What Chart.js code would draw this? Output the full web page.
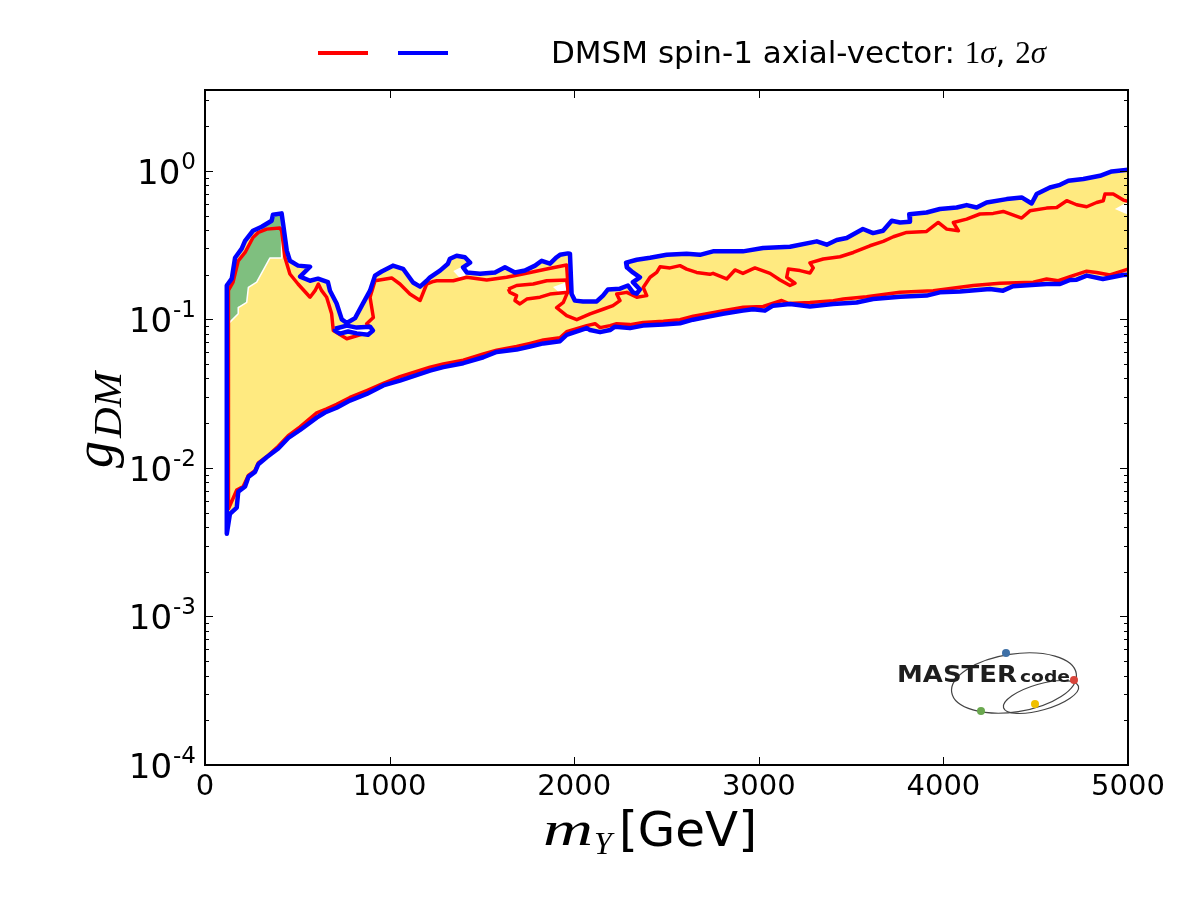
<!DOCTYPE html>
<html><head><meta charset="utf-8">
<script src="https://cdn.jsdelivr.net/npm/chart.js@4/dist/chart.umd.min.js"></script>
<style>html,body{margin:0;padding:0;background:#fff}#wrap{width:1200px;height:900px}</style>
</head><body><div id="wrap"><canvas id="c" width="1200" height="900"></canvas></div>
<script>
// ---- data (m_Y in GeV, g_DM) ----
const xTickValues = [0, 1000, 2000, 3000, 4000, 5000];
const yDecades = [-4, -3, -2, -1, 0];

// 2-sigma (blue) contour: upper branch, right -> left
const blueUpperX = [5000,4975,4912,4848,4758,4677,4632,4577,4505,4478,4424,4343,4234,4180,4126,4072,3981,3909,3815,3819,3765,3720,3673,3619,3564,3476,3422,3368,3314,3169,3023,2914,2752,2681,2609,2501,2411,2339,2281,2285,2318,2356,2318,2356,2339,2318,2291,2248,2183,2156,2122,2048,2004,1986,1977,1966,1923,1905,1869,1824,1788,1733,1679,1625,1571,1490,1418,1398,1436,1408,1363,1327,1316,1273,1219,1201,1165,1127,1073,1018,957,921,894,856,813,768,741,713,677,666,612,569,515,569,504,460,443,423,415,368,361,307,260,217,199,163,145,118];
const blueUpperY = [1.015,1.01,0.99,0.926,0.88,0.857,0.805,0.772,0.697,0.603,0.662,0.645,0.612,0.566,0.588,0.566,0.553,0.524,0.51,0.454,0.449,0.461,0.395,0.381,0.406,0.353,0.342,0.318,0.335,0.308,0.302,0.287,0.287,0.272,0.277,0.272,0.26,0.252,0.241,0.224,0.207,0.192,0.178,0.159,0.149,0.152,0.169,0.161,0.159,0.1445,0.132,0.132,0.1337,0.148,0.277,0.278,0.272,0.262,0.237,0.248,0.23,0.213,0.207,0.224,0.207,0.203,0.207,0.224,0.241,0.262,0.268,0.256,0.237,0.213,0.192,0.182,0.166,0.177,0.219,0.23,0.21,0.197,0.156,0.128,0.102,0.0945,0.1,0.128,0.156,0.178,0.188,0.182,0.194,0.226,0.23,0.248,0.29,0.44,0.517,0.506,0.461,0.42,0.395,0.338,0.299,0.26,0.188,0.169];
// 2-sigma (blue) contour: lower branch, left -> right
const blueLowerX = [118,135,172,180,217,235,271,289,334,397,451,515,605,650,713,785,876,966,1056,1219,1291,1399,1508,1580,1688,1761,1833,1923,1959,2068,2086,2140,2194,2221,2302,2373,2481,2573,2643,2735,2806,2914,2968,3033,3077,3169,3277,3402,3530,3619,3765,3909,3981,4090,4252,4323,4377,4559,4632,4686,4722,4776,4864,4973,5000];
const blueLowerY = [0.0036,0.0049,0.0054,0.0069,0.0075,0.0087,0.0094,0.0106,0.0118,0.0135,0.0159,0.018,0.0218,0.0236,0.0254,0.0284,0.0315,0.0359,0.0387,0.0452,0.0477,0.0507,0.0556,0.0604,0.0626,0.0656,0.0689,0.0713,0.0786,0.0873,0.0847,0.082,0.0847,0.0892,0.0873,0.0908,0.0922,0.0941,0.0995,0.1047,0.1091,0.1145,0.117,0.1145,0.1237,0.127,0.122,0.127,0.130,0.137,0.142,0.1445,0.152,0.154,0.16,0.156,0.167,0.173,0.173,0.184,0.185,0.197,0.187,0.199,0.2];
// small closed 2-sigma island near m_Y ~ 800 GeV
const blueIslandX = [704,768,822,894,910,883,822,775,731,704,704];
const blueIslandY = [0.0864,0.0908,0.088,0.0892,0.084,0.0787,0.0805,0.0828,0.0802,0.084,0.0864];

// 1-sigma (red) contour: upper branch, right -> left
const redUpperX = [5000,4975,4920,4875,4866,4830,4776,4722,4668,4614,4559,4469,4424,4324,4270,4198,4126,4054,4081,4018,3972,3909,3801,3729,3674,3602,3512,3440,3349,3277,3295,3277,3223,3160,3151,3196,3169,3115,3061,2979,2914,2871,2826,2752,2735,2663,2609,2573,2519,2465,2447,2411,2374,2393,2339,2285,2230,2248,2210,2156,2086,2014,1959,1905,1941,1968,1959,1851,1761,1634,1526,1418,1345,1255,1237,1201,1165,1110,1056,1011,921,894,912,876,903,858,768,695,686,659,632,614,596,569,504,460,433,415,406,334,289,260,217,180,152,126];
const redUpperY = [0.624,0.635,0.697,0.697,0.629,0.612,0.573,0.591,0.629,0.566,0.561,0.538,0.481,0.533,0.517,0.512,0.473,0.449,0.395,0.405,0.449,0.391,0.385,0.36,0.335,0.313,0.282,0.264,0.255,0.240,0.222,0.205,0.213,0.218,0.192,0.175,0.169,0.184,0.204,0.222,0.204,0.215,0.187,0.204,0.201,0.207,0.218,0.230,0.222,0.226,0.207,0.192,0.164,0.1445,0.141,0.152,0.148,0.1337,0.1237,0.117,0.109,0.0995,0.106,0.12,0.13,0.156,0.232,0.218,0.207,0.192,0.184,0.192,0.182,0.182,0.18,0.173,0.134,0.148,0.173,0.19,0.182,0.141,0.103,0.0935,0.0863,0.080,0.0740,0.084,0.109,0.141,0.156,0.173,0.156,0.141,0.173,0.202,0.261,0.395,0.412,0.405,0.385,0.356,0.282,0.248,0.178,0.156];
// 1-sigma (red) contour: lower branch, left -> right
const redLowerX = [127,172,207,235,271,289,334,397,451,515,605,659,713,785,876,966,1056,1219,1291,1399,1508,1580,1688,1761,1833,1923,1959,2068,2113,2140,2194,2230,2302,2374,2483,2573,2645,2735,2808,2916,3024,3124,3160,3277,3404,3458,3584,3765,3945,4162,4306,4487,4559,4622,4686,4776,4830,4902,4975,5000];
const redLowerY = [0.0053,0.0071,0.0075,0.0089,0.0096,0.0108,0.0119,0.0140,0.0165,0.0189,0.0235,0.0250,0.0268,0.0298,0.0332,0.0371,0.0411,0.0477,0.05,0.0531,0.0585,0.062,0.0656,0.0689,0.0726,0.0751,0.0826,0.0908,0.0935,0.088,0.0908,0.0935,0.0922,0.0954,0.097,0.0995,0.105,0.11,0.1145,0.1207,0.122,0.134,0.128,0.130,0.1337,0.137,0.142,0.152,0.156,0.169,0.175,0.178,0.187,0.182,0.194,0.211,0.207,0.199,0.213,0.218];
// closed 1-sigma hole near m_Y ~ 1800 GeV
const redLoopX = [1643,1688,1778,1851,1959,1968,1869,1815,1743,1706,1679,1688,1652,1643];
const redLoopY = [0.16,0.169,0.173,0.182,0.184,0.152,0.148,0.141,0.137,0.127,0.134,0.1445,0.152,0.16];

// green filled region (top-left)
const greenX = [130,130,152,180,217,260,309,363,374,415,415,352,343,280,235,226,180,180,135,130];
const greenY = [0.0958,0.161,0.178,0.248,0.282,0.356,0.414,0.461,0.498,0.514,0.259,0.259,0.248,0.178,0.164,0.13,0.12,0.109,0.0958,0.0958];
// unfilled spots inside the band
const gapEdgeX = [4929,5000,5000];
const gapEdgeY = [0.553,0.619,0.506];
const gapSpotAX = [1345,1398,1412,1380,1345];
const gapSpotAY = [0.212,0.228,0.198,0.19,0.212];
const gapSpotBX = [1885,1955,1962,1915,1885];
const gapSpotBY = [0.165,0.178,0.156,0.153,0.165];

// ---- helpers ----
const pts = (xs, ys) => xs.map((x, i) => ({x: x, y: ys[i]}));
const bluePts = pts(blueUpperX, blueUpperY).concat(pts(blueLowerX, blueLowerY));
const redPts = pts(redUpperX, redUpperY).concat(pts(redLowerX, redLowerY));

const YELLOW = 'rgb(255,234,128)';
const GREEN = 'rgb(127,191,127)';

const line = (ctx, x1, y1, x2, y2) => { ctx.beginPath(); ctx.moveTo(x1, y1); ctx.lineTo(x2, y2); ctx.stroke(); };
// draw text squeezed/stretched to a given width
const fitText = (ctx, txt, x, y, width) => {
  const w = ctx.measureText(txt).width;
  ctx.save(); ctx.translate(x, y); ctx.scale(width / w, 1); ctx.fillText(txt, 0, 0); ctx.restore();
  return width;
};

const deco = {
  id: 'deco',
  afterDraw(chart) {
    const ctx = chart.ctx, a = chart.chartArea, xs = chart.scales.x, ys = chart.scales.y;
    ctx.save();
    // frame
    ctx.strokeStyle = '#000'; ctx.lineWidth = 2;
    ctx.strokeRect(a.left, a.top, a.right - a.left, a.bottom - a.top);
    // inward ticks
    ctx.lineWidth = 1;
    xTickValues.forEach(v => {
      const p = Math.round(xs.getPixelForValue(v)) + 0.5;
      line(ctx, p, a.bottom, p, a.bottom - 8);
      line(ctx, p, a.top, p, a.top + 8);
    });
    yDecades.forEach(e => {
      for (let k = 1; k <= 9; k++) {
        const v = k * Math.pow(10, e);
        if (v > ys.max) break;
        const p = Math.round(ys.getPixelForValue(v)) + 0.5;
        const L = k === 1 ? 8 : 4;
        line(ctx, a.left, p, a.left + L, p);
        line(ctx, a.right, p, a.right - L, p);
      }
    });
    // y tick labels 10^n
    ctx.fillStyle = '#000';
    yDecades.forEach(e => {
      const p = ys.getPixelForValue(Math.pow(10, e));
      const sup = String(e);
      ctx.font = '23px "DejaVu Sans"';
      ctx.textAlign = 'right'; ctx.textBaseline = 'alphabetic';
      const sw = ctx.measureText(sup).width;
      ctx.fillText(sup, 196, p - 2);
      ctx.font = '34px "DejaVu Sans"';
      ctx.fillText('10', 196 - sw - 1, p + 13);
    });
    // x axis title
    ctx.textAlign = 'left';
    ctx.font = 'italic 48px "Liberation Serif"';
    fitText(ctx, 'm', 543, 845, 50);
    ctx.font = 'italic 32px "Liberation Serif"';
    ctx.fillText('Y', 594, 854);
    ctx.font = '48px "DejaVu Sans"';
    fitText(ctx, '[GeV]', 619, 846, 138);
    // y axis title
    ctx.save();
    ctx.translate(112, 468);
    ctx.rotate(-Math.PI / 2);
    ctx.font = 'italic 54px "Liberation Serif"';
    ctx.fillText('g', 0, 0);
    const gw = ctx.measureText('g').width;
    ctx.font = 'italic 40px "Liberation Serif"';
    fitText(ctx, 'DM', gw + 3, 9, 66);
    ctx.restore();
    // legend
    ctx.lineWidth = 4; ctx.lineCap = 'butt';
    ctx.strokeStyle = '#ff0000'; line(ctx, 318, 53, 368, 53);
    ctx.strokeStyle = '#0000ff'; line(ctx, 398, 53, 448, 53);
    ctx.font = '31px "DejaVu Sans"';
    let tx = 551;
    const t1 = 'DMSM spin-1 axial-vector: ';
    ctx.fillText(t1, tx, 63); tx += ctx.measureText(t1).width;
    const seg = [['1', '31px "Liberation Serif"'], ['σ', 'italic 31px "Liberation Serif"'], [', ', '31px "DejaVu Sans"'], ['2', '31px "Liberation Serif"'], ['σ', 'italic 31px "Liberation Serif"']];
    seg.forEach(s => { ctx.font = s[1]; ctx.fillText(s[0], tx, 63); tx += ctx.measureText(s[0]).width; });
    // logo
    ctx.strokeStyle = '#444'; ctx.lineWidth = 1.2;
    ctx.beginPath(); ctx.ellipse(1014, 683, 63, 29, -0.15, 0, 2 * Math.PI); ctx.stroke();
    ctx.beginPath(); ctx.ellipse(1041, 697, 39, 13, -0.28, 0, 2 * Math.PI); ctx.stroke();
    ctx.fillStyle = '#1e1e1e';
    ctx.font = 'bold 23px "DejaVu Sans"';
    fitText(ctx, 'MASTER', 897, 682, 120);
    ctx.font = 'bold 16px "DejaVu Sans"';
    fitText(ctx, 'code', 1020, 682, 50);
    [['#3d6fa6', 1006, 653], ['#d8453b', 1074, 680], ['#f0c000', 1035, 704], ['#6aa84f', 981, 711]].forEach(d => {
      ctx.fillStyle = d[0]; ctx.beginPath(); ctx.arc(d[1], d[2], 4, 0, 2 * Math.PI); ctx.fill();
    });
    ctx.restore();
  }
};

const lineDs = (data, color, width) => ({
  data: data, showLine: true, pointRadius: 0, borderColor: color, borderWidth: width,
  fill: false, tension: 0, borderJoinStyle: 'round', borderCapStyle: 'round'
});
const fillDs = (data, color, border, bw) => ({
  data: data, showLine: true, pointRadius: 0, borderColor: border, borderWidth: bw,
  backgroundColor: color, fill: 'shape', tension: 0, borderJoinStyle: 'round'
});

new Chart(document.getElementById('c'), {
  type: 'scatter',
  data: {
    datasets: [
      lineDs(bluePts, '#0000ff', 4.5),
      fillDs(pts(blueIslandX, blueIslandY), '#ffffff', '#0000ff', 4.5),
      lineDs(redPts, '#ff0000', 3.5),
      fillDs(pts(redLoopX, redLoopY), 'rgba(0,0,0,0)', '#ff0000', 3.5),
      fillDs(pts(gapEdgeX, gapEdgeY), '#ffffff', 'rgba(0,0,0,0)', 0),
      fillDs(pts(gapSpotAX, gapSpotAY), '#ffffff', 'rgba(0,0,0,0)', 0),
      fillDs(pts(gapSpotBX, gapSpotBY), '#ffffff', 'rgba(0,0,0,0)', 0),
      fillDs(pts(greenX, greenY), GREEN, '#ffffff', 1.5),
      fillDs(bluePts, YELLOW, 'rgba(0,0,0,0)', 0)
    ]
  },
  options: {
    responsive: false, animation: false, devicePixelRatio: 1,
    layout: {padding: {left: 0, right: 72, top: 90, bottom: 0}},
    plugins: {legend: {display: false}, tooltip: {enabled: false}},
    scales: {
      x: {
        type: 'linear', min: 0, max: 5000,
        grid: {display: false, drawTicks: false}, border: {display: false},
        ticks: {stepSize: 1000, autoSkip: false, maxRotation: 0, padding: 5, color: '#000',
                font: {family: 'DejaVu Sans', size: 29}, callback: v => String(v)},
        afterFit: s => { s.height = 135; }
      },
      y: {
        type: 'logarithmic', min: 1e-4, max: 3.5,
        grid: {display: false, drawTicks: false}, border: {display: false},
        ticks: {display: false},
        afterFit: s => { s.width = 205; }
      }
    }
  },
  plugins: [deco]
});
</script>
</body></html>
